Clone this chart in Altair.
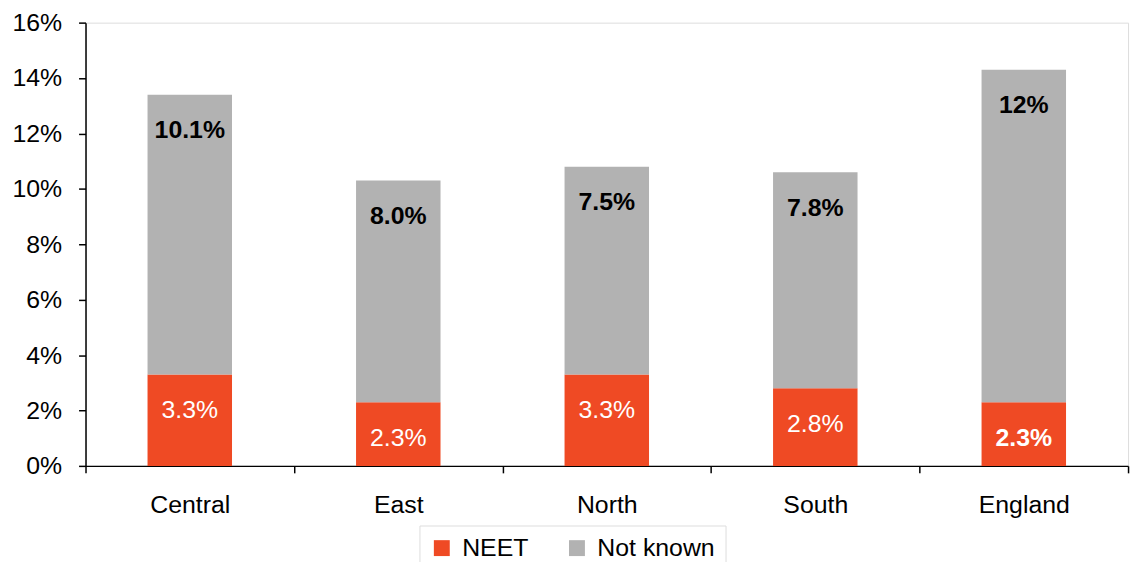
import altair as alt
import pandas as pd

categories = ["Central", "East", "North", "South", "England"]
neet = [3.3, 2.3, 3.3, 2.8, 2.3]
not_known = [10.1, 8.0, 7.5, 7.8, 12.0]
neet_labels = ["3.3%", "2.3%", "3.3%", "2.8%", "2.3%"]
not_known_labels = ["10.1%", "8.0%", "7.5%", "7.8%", "12%"]
neet_bold = [False, False, False, False, True]
series = ["NEET", "Not known"]
colors = ["#EF4A24", "#B2B2B2"]
y_ticks = [0, 2, 4, 6, 8, 10, 12, 14, 16]

rows = []
for i, c in enumerate(categories):
    rows.append({"category": c, "series": "NEET", "value": neet[i], "label": neet_labels[i],
                 "ord": 0, "bold": neet_bold[i]})
    rows.append({"category": c, "series": "Not known", "value": not_known[i], "label": not_known_labels[i],
                 "ord": 1, "bold": True})
df = pd.DataFrame(rows)

FONT = "Liberation Sans"

x_enc = alt.X("category:N", sort=categories, title=None,
              scale=alt.Scale(paddingInner=0, paddingOuter=0),
              axis=alt.Axis(labelAngle=0, labelFontSize=25, labelFont=FONT, labelColor="black",
                            tickBand="extent", tickSize=7, tickColor="black", tickWidth=1.5,
                            domainColor="black", domainWidth=1.5, labelPadding=20, grid=False))

bars = alt.Chart(df).mark_bar(size=85).encode(
    x=x_enc,
    y=alt.Y("value:Q", stack="zero", title=None,
            scale=alt.Scale(domain=[0, 16], nice=False),
            axis=alt.Axis(values=y_ticks, labelExpr="datum.value + '%'", labelFontSize=25,
                          labelFont=FONT, labelColor="black", tickSize=7, tickColor="black",
                          tickWidth=1.5, domainColor="black", domainWidth=1.5, labelPadding=17,
                          grid=False)),
    color=alt.Color("series:N", scale=alt.Scale(domain=series, range=colors), title=None,
                    legend=alt.Legend(orient="none", legendX=336, legendY=506, direction="horizontal",
                                      symbolType="square", symbolSize=256, symbolStrokeWidth=0,
                                      labelFontSize=25, labelFont=FONT, labelColor="black",
                                      strokeColor="#DDDDDD", padding=10, columnPadding=36,
                                      labelOffset=8, symbolOpacity=1)),
    order=alt.Order("ord:Q"),
)

stacked = alt.Chart(df).transform_stack(
    stack="value", groupby=["category"], sort=[alt.SortField("ord")], as_=["v0", "v1"]
)

def label_layer(series_name, bold, color):
    return stacked.transform_filter(
        (alt.datum.series == series_name) & (alt.datum.bold == bold)
    ).mark_text(baseline="middle", align="center", dy=36, fontSize=25, font=FONT,
                fontWeight="bold" if bold else "normal", color=color).encode(
        x=alt.X("category:N", sort=categories),
        y=alt.Y("v1:Q"),
        text="label:N",
    )

chart = alt.layer(
    bars,
    label_layer("NEET", False, "white"),
    label_layer("NEET", True, "white"),
    label_layer("Not known", True, "black"),
).properties(
    width=1049, height=446,
    autosize=alt.AutoSizeParams(type="none"),
    padding={"left": 78, "top": 13, "right": 8, "bottom": 95},
).configure_view(stroke=None).configure(background="white")

chart.save("out.html", embed_options={"renderer": "svg", "actions": False})
